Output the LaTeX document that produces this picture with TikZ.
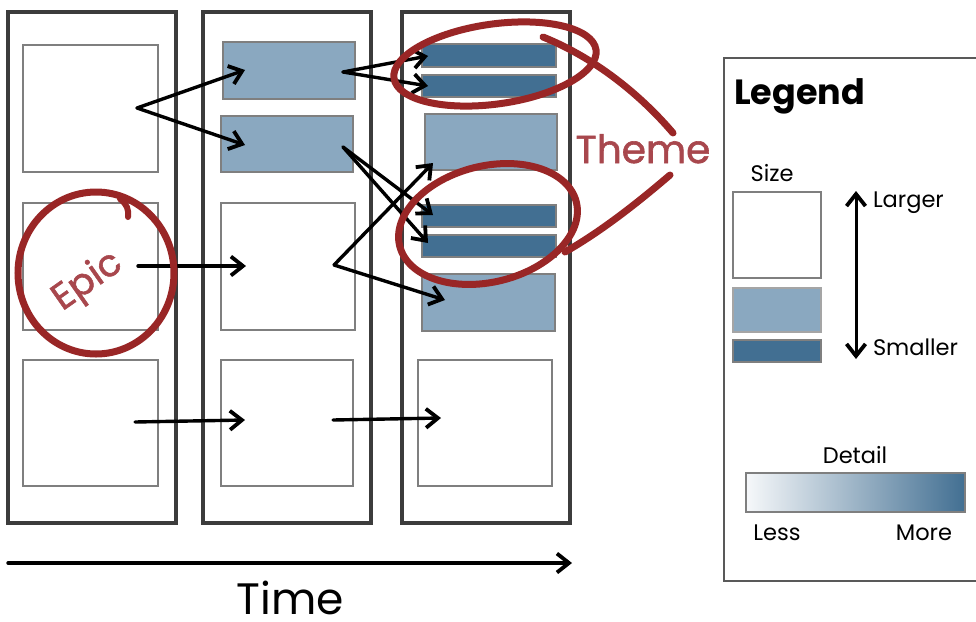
\documentclass[tikz,border=0pt]{standalone}
\usepackage{fontspec}
\setmainfont{Poppins}
\newfontfamily\redfont[FakeBold=1.5]{Poppins}
\usetikzlibrary{arrows.meta,calc}
\definecolor{lightb}{HTML}{8AA8C0}
\definecolor{darkb}{HTML}{426F92}
\definecolor{framec}{HTML}{3C3C3C}
\definecolor{boxgray}{HTML}{7F7F7F}
\definecolor{redmark}{HTML}{992626}
\definecolor{redtext}{HTML}{A8474D}
\definecolor{gradl}{HTML}{F6F8FA}
\begin{document}
\begin{tikzpicture}[x=1pt,y=-1pt,every node/.style={inner sep=0pt,outer sep=0pt}]
\tikzset{
 col/.style={draw=framec,line width=3.2pt,fill=white,anchor=north west},
 card/.style={draw=boxgray,line width=1.6pt,anchor=north west},
 wcard/.style={card,fill=white},
 lcard/.style={card,fill=lightb},
 dcard/.style={card,fill=darkb},
 barb/.tip={Straight Barb[length=12pt,width=19pt,line width=3.8pt]},
 arr/.style={draw=black,line width=3.4pt,line cap=round,-barb},
 ring/.style={draw=redmark,line width=7pt,line cap=round},
 lbl/.style={font=\fontsize{22.5}{26}\selectfont,text=black},
}
\useasboundingbox (0,0) rectangle (976,621);
\fill[white] (0,0) rectangle (976,621);

% columns
\node[col,minimum width=168pt,minimum height=511pt] (c1) at (8,12) {};
\node[col,minimum width=168pt,minimum height=511pt] (c2) at (203,12) {};
\node[col,minimum width=168pt,minimum height=511pt] (c3) at (402,12) {};

% column 1
\node[wcard,minimum width=135pt,minimum height=127pt] (A) at (23,45) {};
\node[wcard,minimum width=135pt,minimum height=127pt] (B) at (23,203) {};
\node[wcard,minimum width=135pt,minimum height=126pt] (C) at (23,360) {};
% column 2
\node[lcard,minimum width=132pt,minimum height=57pt] (D) at (223,42) {};
\node[lcard,minimum width=132pt,minimum height=56pt] (E) at (221,116) {};
\node[wcard,minimum width=134pt,minimum height=127pt] (F) at (221,203) {};
\node[wcard,minimum width=132pt,minimum height=126pt] (G) at (221,360) {};
% column 3
\node[dcard,minimum width=134pt,minimum height=23pt] (H) at (422,44) {};
\node[dcard,minimum width=134pt,minimum height=22pt] (I) at (422,75) {};
\node[lcard,minimum width=132pt,minimum height=56pt] (J) at (425,114) {};
\node[dcard,minimum width=134pt,minimum height=22pt] (K) at (422,205) {};
\node[dcard,minimum width=134pt,minimum height=22pt] (L) at (422,235) {};
\node[lcard,minimum width=133pt,minimum height=57pt] (M) at (422,274) {};
\node[wcard,minimum width=134pt,minimum height=126pt] (N) at (418,360) {};

% arrow end points
\coordinate (a0) at (137,108);
\coordinate (d1) at (245,70);
\coordinate (e1) at (245,145);
\coordinate (d0) at (343,72);
\coordinate (h1) at (428,56);
\coordinate (i1) at (428,86);
\coordinate (e0) at (343,147);
\coordinate (k1) at (433,215);
\coordinate (l1) at (428,243);
\coordinate (f0) at (334,265);
\coordinate (j1) at (433,163);
\coordinate (m1) at (445,300);
\coordinate (b0) at (138,266);
\coordinate (f1) at (246,266);
\coordinate (c0) at (135,422);
\coordinate (g1) at (245,420);
\coordinate (g0) at (333,420);
\coordinate (n1) at (441,418);
\coordinate (t0) at (8,563);
\coordinate (t1) at (572,563);

\draw[arr] (a0) -- (d1);
\draw[arr] (a0) -- (e1);
\draw[arr] (d0) -- (h1);
\draw[arr] (d0) -- (i1);
\draw[arr] (e0) -- (k1);
\draw[arr] (e0) -- (l1);
\draw[arr] (f0) -- (j1);
\draw[arr] (f0) -- (m1);
\draw[arr] (b0) -- (f1);
\draw[arr] (c0) -- (g1);
\draw[arr] (g0) -- (n1);
\draw[arr] (t0) -- (t1);

\node[anchor=base,font=\fontsize{44}{50}\selectfont] (time) at (290,614) {Time};

% Epic
\draw[ring] (96,273) ellipse [x radius=78pt,y radius=81pt];
\draw[ring,line width=6pt] (120,199) .. controls (127,204) and (129,210) .. (128,217);
\node[text=redtext,rotate=35,font=\redfont\fontsize{37}{44}\selectfont] (epic) at (88,282) {Epic};

% Theme
\draw[ring,rotate around={8:(495,64)}] (495,64) ellipse [x radius=102pt,y radius=40pt];
\draw[ring,rotate around={14:(488,224)}] (488,224) ellipse [x radius=91pt,y radius=58pt];
\coordinate (th1) at (543,37);
\coordinate (th2) at (673,133);
\coordinate (th3) at (670,175);
\coordinate (th4) at (565,252);
\draw[ring] (th1) .. controls (600,60) and (645,100) .. (th2);
\draw[ring] (th3) .. controls (635,205) and (600,232) .. (th4);
\node[anchor=base,text=redtext,font=\redfont\fontsize{39}{44}\selectfont] (theme) at (643,163) {Theme};

% Legend
\node[anchor=north west,draw=framec!85,line width=2.5pt,minimum width=270pt,minimum height=523pt] (leg) at (724,58) {};
\node[anchor=base west,font=\fontsize{35}{40}\selectfont\bfseries] (legt) at (734,104) {Legend};
\node[lbl,anchor=base] (size) at (772,181) {Size};
\node[wcard,minimum width=88pt,minimum height=86pt] (lw) at (733,192) {};
\node[lcard,draw=boxgray!70,minimum width=88pt,minimum height=44pt] (ll) at (733,288) {};
\node[dcard,minimum width=88pt,minimum height=22pt] (ld) at (733,340) {};
\coordinate (up) at (856,191);
\coordinate (dn) at (856,359);
\draw[line width=3pt,barb-barb] (up) -- (dn);
\node[lbl,anchor=base west] (larger) at (873,207) {Larger};
\node[lbl,anchor=base west] (smaller) at (873,355) {Smaller};
\node[lbl,anchor=base] (detail) at (855,463) {Detail};
\node[card,left color=gradl,right color=darkb,minimum width=219pt,minimum height=39pt] (grad) at (746,473) {};
\node[lbl,anchor=base] (less) at (777,540) {Less};
\node[lbl,anchor=base] (more) at (924,540) {More};
\end{tikzpicture}
\end{document}
